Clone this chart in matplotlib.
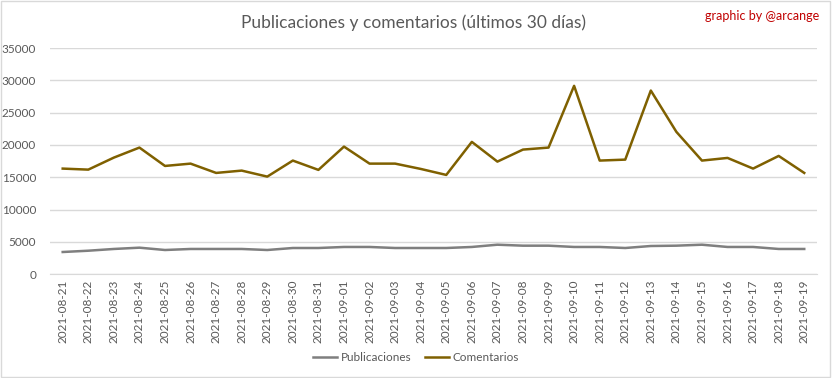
import matplotlib
matplotlib.use("Agg")
import matplotlib.pyplot as plt
from matplotlib.patches import Rectangle

plt.rcParams['font.family'] = ['Lato', 'DejaVu Sans']

dates = ["2021-08-21", "2021-08-22", "2021-08-23", "2021-08-24", "2021-08-25", "2021-08-26",
         "2021-08-27", "2021-08-28", "2021-08-29", "2021-08-30", "2021-08-31", "2021-09-01",
         "2021-09-02", "2021-09-03", "2021-09-04", "2021-09-05", "2021-09-06", "2021-09-07",
         "2021-09-08", "2021-09-09", "2021-09-10", "2021-09-11", "2021-09-12", "2021-09-13",
         "2021-09-14", "2021-09-15", "2021-09-16", "2021-09-17", "2021-09-18", "2021-09-19"]

publicaciones = [3450, 3650, 3920, 4120, 3760, 3920, 3920, 3920, 3760, 4070, 4070, 4230,
                 4230, 4070, 4070, 4070, 4230, 4580, 4430, 4430, 4230, 4230, 4070, 4380,
                 4430, 4580, 4230, 4230, 3920, 3920]

comentarios = [16350, 16190, 18050, 19600, 16760, 17120, 15680, 16040, 15110, 17590, 16150, 19750,
               17120, 17120, 16300, 15370, 20480, 17430, 19290, 19600, 29150, 17590, 17740, 28420,
               22030, 17590, 18000, 16350, 18310, 15680]

yticks = [0, 5000, 10000, 15000, 20000, 25000, 30000, 35000]

text_color = '#595959'
grid_color = '#D9D9D9'

fig = plt.figure(figsize=(8.32, 3.78), dpi=100)
ax = fig.add_axes([0.060, 0.2743, 0.922, 0.5987])

x = list(range(len(dates)))
ax.plot(x, publicaciones, color='#7F7F7F', lw=1.8, label='Publicaciones', solid_joinstyle='round')
ax.plot(x, comentarios, color='#7F6000', lw=1.8, label='Comentarios', solid_joinstyle='round')

ax.set_xlim(-0.5, len(dates) - 0.5)
ax.set_ylim(0, 35000)
ax.set_yticks(yticks)
ax.set_yticklabels([str(v) for v in yticks], fontsize=8.5, color=text_color)
ax.set_xticks(x)
ax.set_xticklabels(dates, rotation=90, fontsize=8.5, color=text_color)
ax.tick_params(axis='both', length=0)
ax.tick_params(axis='y', pad=10)
ax.tick_params(axis='x', pad=4)
ax.grid(axis='y', color=grid_color, lw=1)
ax.set_axisbelow(True)
for s in ['top', 'right', 'left']:
    ax.spines[s].set_visible(False)
ax.spines['bottom'].set_color(grid_color)

fig.text(0.497, 0.94, 'Publicaciones y comentarios (últimos 30 días)', ha='center', va='center',
         fontsize=12.5, color=text_color)
fig.text(0.985, 0.958, 'graphic by @arcange', ha='right', va='center', fontsize=9, color='#C00000')

fig.legend(loc='center', bbox_to_anchor=(0.5, 0.053), ncol=2, frameon=False, fontsize=8.5,
           labelcolor=text_color, handlelength=2.0, columnspacing=1.2, handletextpad=0.3)

fig.patches.append(Rectangle((0.001, 0.002), 0.997, 0.995, transform=fig.transFigure,
                             fill=False, edgecolor='#D9D9D9', lw=1))

fig.savefig('out.png', dpi=100, facecolor='white')
